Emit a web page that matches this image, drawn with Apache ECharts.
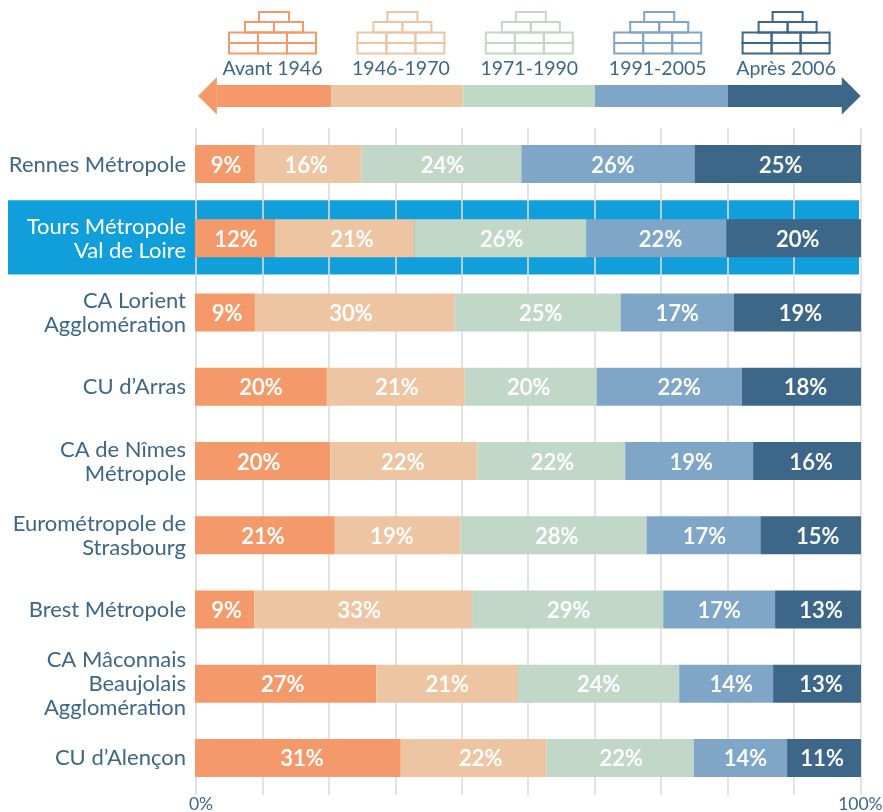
<!DOCTYPE html>
<html><head><meta charset="utf-8">
<style>html,body{margin:0;padding:0;background:#fff}#c{width:883px;height:812px}</style>
<script src="https://cdn.jsdelivr.net/npm/echarts@6/dist/echarts.min.js"></script>
</head><body><div id="c"></div>
<script>
const categories = ['Rennes Métropole','Tours Métropole\nVal de Loire','CA Lorient\nAgglomération',"CU d’Arras",'CA de Nîmes\nMétropole','Eurométropole de\nStrasbourg','Brest Métropole','CA Mâconnais\nBeaujolais\nAgglomération',"CU d’Alençon"];
const periods = ['Avant 1946','1946-1970','1971-1990','1991-2005','Après 2006'];
const colors = ['#f49a6a','#eec5a2','#c1d8c8','#7fa6c7','#3c6788'];
const avant1946 = [9,12,9,19.8,20.3,21,8.9,27.2,30.9];
const p1946_1970 = [16,21,30,20.7,22.1,18.9,32.7,21.3,21.9];
const p1971_1990 = [24,25.8,24.9,19.8,22.2,27.9,28.7,24.2,22.1];
const p1991_2005 = [26,21,17,21.8,19.2,17.1,16.8,14.1,14];
const apres2006 = [25,20.2,19.1,17.9,16.2,15.1,12.9,13.2,11.1];
const printed = [
  [9,12,9,20,20,21,9,27,31],
  [16,21,30,21,22,19,33,21,22],
  [24,26,25,20,22,28,29,24,22],
  [26,22,17,22,19,17,17,14,14],
  [25,20,19,18,16,15,13,13,11]
];
const xTickLabels = {0:'0%',100:'100%'};
const allSeries = [avant1946,p1946_1970,p1971_1990,p1991_2005,apres2006];
const highlighted = 'Tours Métropole\nVal de Loire';
const ink = '#3d6787', font = 'Lato';

// the reference's value labels sit slightly off-centre in their segments
const labelShift = [
  [1,1,2,0,-4,-2,2,-3,4],
  [-2,7,-4,1,-1,-6,-4,0,7],
  [1,1,3,-2,1,3,1,0,1],
  [5,4,0,10,2,1,0,5,5],
  [3,4,3,4,4,7,3,4,-2]
];

const chart = echarts.init(document.getElementById('c'),null,{renderer:'canvas'});
const option = {
  animation:false,
  textStyle:{fontFamily:font},
  grid:[
    {left:195,width:666,top:127,height:668,outerBoundsMode:'none'},
    {left:196,width:664.4,top:128,height:667,outerBoundsMode:'none'}
  ],
  xAxis:[
    {gridIndex:0,type:'value',min:0,max:100,show:false},
    {gridIndex:1,type:'value',min:0,max:100,interval:10,
      axisLine:{show:false},axisTick:{show:false},
      splitLine:{show:true,lineStyle:{color:'#dcdcdc',width:1.6}},
      axisLabel:{show:true,margin:0,hideOverlap:false,fontFamily:font,fontSize:17.5,color:ink,
        formatter:v=>v===0?'{a|0%}':(xTickLabels[v]||''),
        rich:{a:{padding:[0,0,0,10],fontFamily:font,fontSize:17.5,color:ink}}}}
  ],
  yAxis:[
    {gridIndex:0,type:'category',inverse:true,data:categories,show:false},
    {gridIndex:1,type:'category',inverse:true,
      data:categories.map(c=>({value:c,textStyle:{color:c===highlighted?'#ffffff':ink}})),
      axisLine:{show:false},axisTick:{show:false},
      axisLabel:{interval:0,margin:10,fontFamily:font,fontSize:22,lineHeight:24,color:ink,align:'right'}}
  ],
  series:allSeries.map((vals,i)=>({
    type:'bar',name:periods[i],stack:'t',xAxisIndex:0,yAxisIndex:0,barWidth:38,z:3,
    itemStyle:{color:colors[i]},
    data:vals.map((v,j)=>({value:v,label:{offset:[labelShift[i][j],1.5]}})),
    label:{show:true,position:'inside',color:'#fff',fontFamily:font,fontSize:22,fontWeight:600,
      textBorderColor:'#fff',textBorderWidth:0.15,
      formatter:p=>printed[i][p.dataIndex]+'%'}
  })).concat([{type:'bar',xAxisIndex:1,yAxisIndex:1,data:[],silent:true}])
};
chart.setOption(option);

const g = [];
const iconStep = 128.4;
periods.forEach((p,i)=>{
  const c = colors[i];
  const ox = 229 + i*iconStep;
  const box = (x,y,w,h)=>({type:'rect',shape:{x:ox+x,y:y,width:w,height:h},style:{fill:'none',stroke:c,lineWidth:2}});
  g.push(box(30,12,30,10));
  g.push(box(16,22,29,10.5),box(45,22,29,10.5));
  [0,29,58].forEach(x=>{g.push(box(x,32.5,29,10.5),box(x,43,29,10.5));});
  g.push({type:'text',style:{x:ox+43.5,y:69,text:p,fill:ink,font:'19.5px '+font,textAlign:'center',textVerticalAlign:'middle'}});
});
const segEdges = [216.7,331,463.5,595,728,842];
const bodyTop=85, bodyH=22;
colors.forEach((c,i)=>{
  g.push({type:'rect',shape:{x:segEdges[i],y:bodyTop,width:segEdges[i+1]-segEdges[i],height:bodyH},style:{fill:c}});
});
g.push({type:'polygon',shape:{points:[[198,96],[216.9,77],[216.9,114.5]]},style:{fill:colors[0]}});
g.push({type:'polygon',shape:{points:[[860.7,96],[841.8,77],[841.8,114.5]]},style:{fill:colors[4]}});

const rowY = chart.convertToPixel({yAxisIndex:0},highlighted);
const rowStep = chart.convertToPixel({yAxisIndex:0},categories[2])-rowY;
g.push({type:'rect',z:-1,shape:{x:8,y:rowY-rowStep/2-1,width:851,height:rowStep},style:{fill:'#109fda'}});
chart.setOption({graphic:{elements:g}});
</script></body></html>
